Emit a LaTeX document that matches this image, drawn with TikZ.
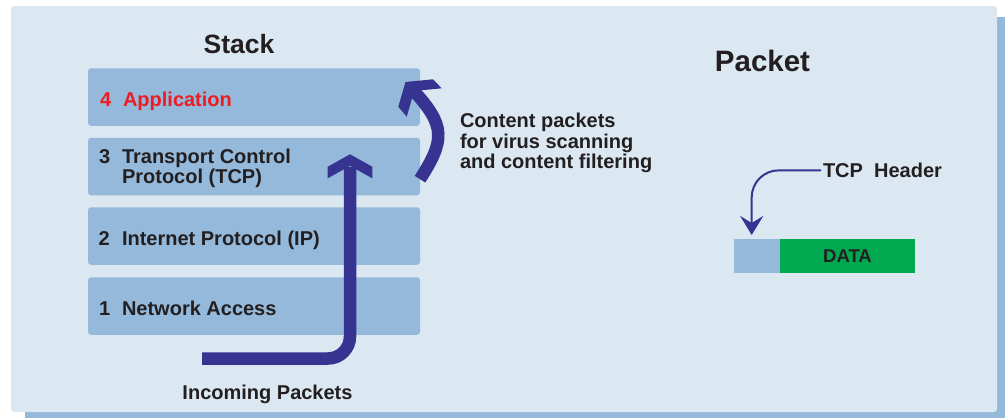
\documentclass[tikz,border=0pt]{standalone}
\usepackage{fontspec}
\setmainfont{Liberation Sans}
\usetikzlibrary{arrows.meta}

\definecolor{panel}{RGB}{219,232,242}
\definecolor{layerblue}{RGB}{148,185,218}
\definecolor{flow}{RGB}{55,52,145}
\definecolor{ink}{RGB}{35,31,32}
\definecolor{apphi}{RGB}{237,28,36}
\definecolor{datagreen}{RGB}{0,169,79}

\newcommand{\lblfont}{\fontsize{20}{19.5}\selectfont\bfseries}

\begin{document}
\begin{tikzpicture}[x=1pt,y=-1pt,
  every node/.style={inner sep=0pt, outer sep=0pt, text=ink},
  layerbox/.style={fill=layerblue, rounded corners=3pt, minimum width=332pt, minimum height=57.5pt},
  lbl/.style={font=\lblfont, anchor=base west},
  title/.style={anchor=base, font=\fontsize{#1}{#1}\selectfont\bfseries},
  bigflow/.style={draw=flow, line width=12.5pt},
  thinflow/.style={draw=flow, line width=2pt},
  headfill/.style={fill=flow}
]
\useasboundingbox (0,0) rectangle (1005,418);

% drop shadow and panel
\fill[layerblue] (25,17) rectangle (1005,418);
\fill[panel, rounded corners=3pt] (11,6) rectangle (997,412);

% titles
\node[title=26.5] (stack) at (239,53) {Stack};
\node[title=29.5] (packet) at (762.5,71.7) {Packet};

% protocol layers
\node[layerbox] (l4) at (254,97) {};
\node[layerbox] (l3) at (254,166.5) {};
\node[layerbox] (l2) at (254,236) {};
\node[layerbox] (l1) at (254,306) {};

\node[lbl, text=apphi] (n4) at (100,106) {4};
\node[lbl, text=apphi] (t4) at (123,106) {Application};
\node[lbl] (n3) at (99,163.3) {3};
\node[lbl] (t3) at (122,163.3) {\begin{tabular}[t]{@{}l@{}}Transport Control\\Protocol (TCP)\end{tabular}};
\node[lbl] (n2) at (98.5,245) {2};
\node[lbl] (t2) at (122,245) {Internet Protocol (IP)};
\node[lbl] (n1) at (99,315) {1};
\node[lbl] (t1) at (122,315) {Network Access};

% incoming packets rising through the stack
\node[anchor=base, font=\lblfont] (incoming) at (267.5,399) {Incoming Packets};
\coordinate (inStart) at (202,358.5);
\coordinate (inTip) at (350,154.3);
\coordinate (inEnd) at (350,167);
\draw[bigflow, rounded corners=22pt] (inStart) -| (inEnd);
\fill[headfill] (inTip) -- ++(-22.3,12.4) -- ++(0,11.6) -- ++(22.3,-12.4)
  -- ++(22.3,12.4) -- ++(0,-11.6) -- cycle;

% hand-off from transport to application
\coordinate (upStart) at (420,179.2);
\coordinate (upEnd) at (413,90);
\draw[bigflow] (upStart) .. controls (445,140) and (446,126) .. (upEnd);
\fill[headfill] (405.5,82) -- (433,79.3) -- (441.7,88.3) -- (414.2,91)
  -- (406.7,116.7) -- (398.3,106.7) -- cycle;

\node[lbl] (content) at (460,127.7)
  {\begin{tabular}[t]{@{}l@{}}Content packets\\for virus scanning\\and content filtering\end{tabular}};

% packet layout
\node[fill=layerblue, minimum width=46pt, minimum height=34pt] (hdr) at (757,256) {};
\node[fill=datagreen, minimum width=135pt, minimum height=34pt] (data) at (847.5,256) {};
\node[anchor=base, font=\fontsize{18.5}{18.5}\selectfont\bfseries] (datatxt) at (847.5,262.3) {DATA};

\node[lbl] (hdrlabel) at (823,177.5) {TCP\hspace{5.6pt} Header};
\draw[thinflow, rounded corners=27pt, -{Stealth[length=19pt, width=23pt, inset=7pt]}]
  ([xshift=-2pt]hdrlabel.west) -| ([xshift=-5.3pt, yshift=4pt]hdr.north);
\end{tikzpicture}
\end{document}
